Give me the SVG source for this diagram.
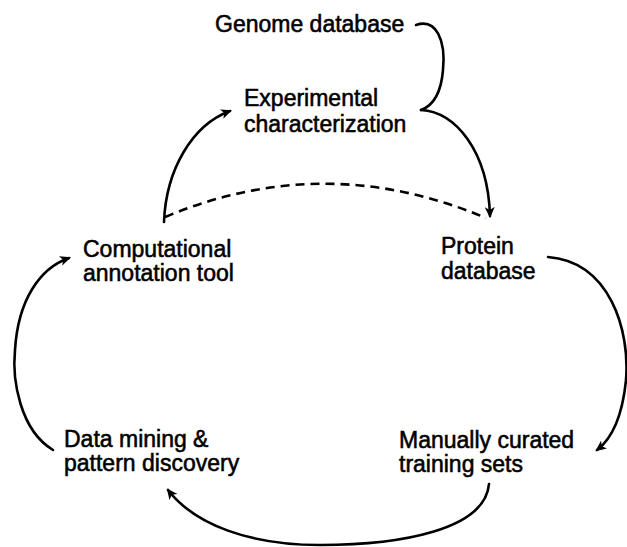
<svg xmlns="http://www.w3.org/2000/svg" width="627" height="547" viewBox="0 0 627 547">
  <style>
    .label { font-family: "Liberation Sans", Arial, sans-serif; font-size: 23px; fill: #000; stroke: #000; stroke-width: 0.55px; }
    .link { fill: none; stroke: #000; stroke-width: 2.6; stroke-linecap: round; }
    .dashed { stroke-dasharray: 9 6; stroke-linecap: butt; }
  </style>
  <defs>
    <marker id="arrow" markerUnits="userSpaceOnUse" markerWidth="14" markerHeight="12" refX="9" refY="5" orient="auto">
      <path d="M0,0 L11,5 L0,10 L3,5 Z" fill="#000"/>
    </marker>
  </defs>

  <g id="connectors">
    <!-- brace from the genome database into the experimental step -->
    <path class="link" d="M 416 25 C 436 18, 446 40, 443 70 C 441 95, 432 106, 421 110"/>
    <!-- experimental characterization to protein database -->
    <path class="link" d="M 421 110 C 455 112, 488 150, 490 216" marker-end="url(#arrow)"/>
    <!-- computational tool to experimental characterization -->
    <path class="link" d="M 164 222 C 166 170, 192 125, 230 111" marker-end="url(#arrow)"/>
    <!-- direct computational annotation of the protein database -->
    <path class="link dashed" d="M 165 217 Q 325 150, 486 218"/>
    <!-- protein database to curated training sets -->
    <path class="link" d="M 548 257 C 610 262, 630 330, 626 380 C 622 420, 610 440, 597 450" marker-end="url(#arrow)"/>
    <!-- training sets to data mining -->
    <path class="link" d="M 489 484 C 485 530, 400 545, 320 545 C 250 545, 195 525, 168 490" marker-end="url(#arrow)"/>
    <!-- data mining to computational tool -->
    <path class="link" d="M 53 450 C 20 430, 12 380, 15 350 C 18 300, 40 268, 69 258" marker-end="url(#arrow)"/>
  </g>

  <g id="genome-database">
    <text class="label" x="215" y="32">Genome database</text>
  </g>
  <g id="experimental-characterization">
    <text class="label" x="244" y="106">Experimental</text>
    <text class="label" x="244" y="132">characterization</text>
  </g>
  <g id="computational-annotation-tool">
    <text class="label" x="83" y="257">Computational</text>
    <text class="label" x="83" y="281">annotation tool</text>
  </g>
  <g id="protein-database">
    <text class="label" x="441" y="254">Protein</text>
    <text class="label" x="441" y="279">database</text>
  </g>
  <g id="data-mining">
    <text class="label" x="64" y="447">Data mining &amp;</text>
    <text class="label" x="64" y="471">pattern discovery</text>
  </g>
  <g id="manually-curated-training-sets">
    <text class="label" x="399" y="448">Manually curated</text>
    <text class="label" x="399" y="472">training sets</text>
  </g>
</svg>
